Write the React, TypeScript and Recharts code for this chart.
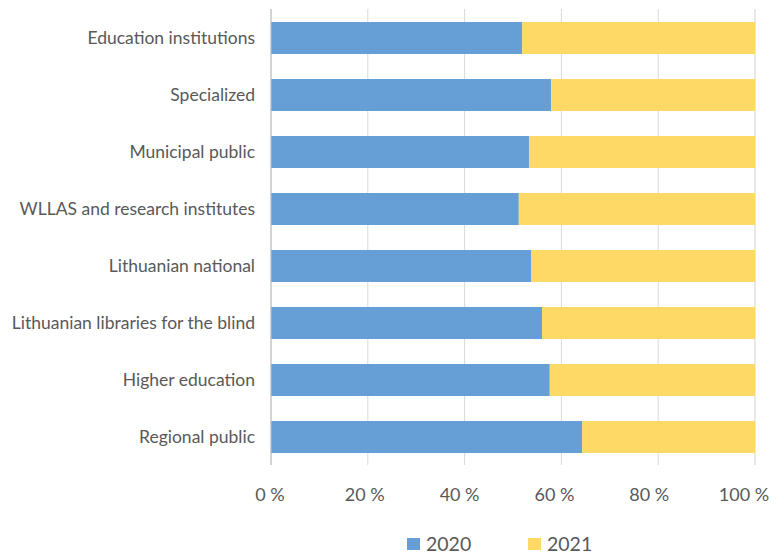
import { BarChart, Bar, XAxis, YAxis, CartesianGrid } from 'recharts';

const categories = [
  'Education institutions',
  'Specialized',
  'Municipal public',
  'WLLAS and research institutes',
  'Lithuanian national',
  'Lithuanian libraries for the blind',
  'Higher education',
  'Regional public',
];

const share2020 = [51.9, 57.9, 53.3, 51.2, 53.8, 56.0, 57.6, 64.3];
const share2021 = [48.1, 42.1, 46.7, 48.8, 46.2, 44.0, 42.4, 35.7];

const majorTicks = [0, 20, 40, 60, 80, 100];
const minorTicks = [0, 4, 8, 12, 16, 20, 24, 28, 32, 36, 40, 44, 48, 52, 56, 60, 64, 68, 72, 76, 80, 84, 88, 92, 96, 100];

const data = categories.map((name, i) => ({
  name,
  y2020: share2020[i],
  y2021: share2021[i],
}));

const FONT = 'Lato, "Liberation Sans", sans-serif';
const TEXT = '#595959';
const BLUE = '#669ED6';
const YELLOW = '#FFD966';

const XTick = ({ x, y, payload }: any) => (
  <text
    x={x - 1 - payload.value * 0.1}
    y={y}
    dy={36}
    textAnchor="middle"
    fill={TEXT}
    fontSize={18}
    fontFamily={FONT}
  >
    {`${payload.value} %`}
  </text>
);

const legendItems = [
  { label: '2020', color: BLUE },
  { label: '2021', color: YELLOW },
];

const App = () => {
  return (
    <div style={{ position: 'absolute', left: 0, top: 0, width: 784, height: 557, background: '#fff', overflow: 'hidden' }}>
      <BarChart
        width={784}
        height={557}
        data={data}
        layout="vertical"
        margin={{ top: 9, right: 29, left: 0, bottom: 32 }}
      >
        <CartesianGrid xAxisId="minor" horizontal={false} stroke="#EEEEEE" />
        <CartesianGrid horizontal={false} stroke="#D9D9D9" />
        <XAxis
          xAxisId="minor"
          type="number"
          domain={[0, 100]}
          ticks={minorTicks}
          hide
        />
        <XAxis
          type="number"
          domain={[0, 100]}
          ticks={majorTicks}
          axisLine={false}
          tickLine={false}
          tickSize={0}
          tickMargin={0}
          height={60}
          interval={0}
          tick={<XTick />}
        />
        <YAxis
          type="category"
          dataKey="name"
          width={271}
          axisLine={{ stroke: '#BFBFBF' }}
          tickLine={false}
          tickSize={0}
          tickMargin={16}
          interval={0}
          tick={{ fill: TEXT, fontSize: 17.5, fontFamily: FONT }}
        />
        <Bar dataKey="y2020" name="2020" stackId="a" fill={BLUE} barSize={32} isAnimationActive={false} />
        <Bar dataKey="y2021" name="2021" stackId="a" fill={YELLOW} barSize={32} isAnimationActive={false} />
      </BarChart>
      <div
        style={{
          position: 'absolute',
          left: 407,
          top: 535,
          display: 'flex',
          alignItems: 'center',
          fontFamily: FONT,
          fontSize: 19.5,
          color: TEXT,
          lineHeight: '18px',
          height: 18,
        }}
      >
        {legendItems.map((item) => (
          <div key={item.label} style={{ display: 'flex', alignItems: 'center', width: 121 }}>
            <span style={{ display: 'inline-block', width: 13, height: 12, background: item.color, marginRight: 6 }} />
            <span>{item.label}</span>
          </div>
        ))}
      </div>
    </div>
  );
};

export default App;
